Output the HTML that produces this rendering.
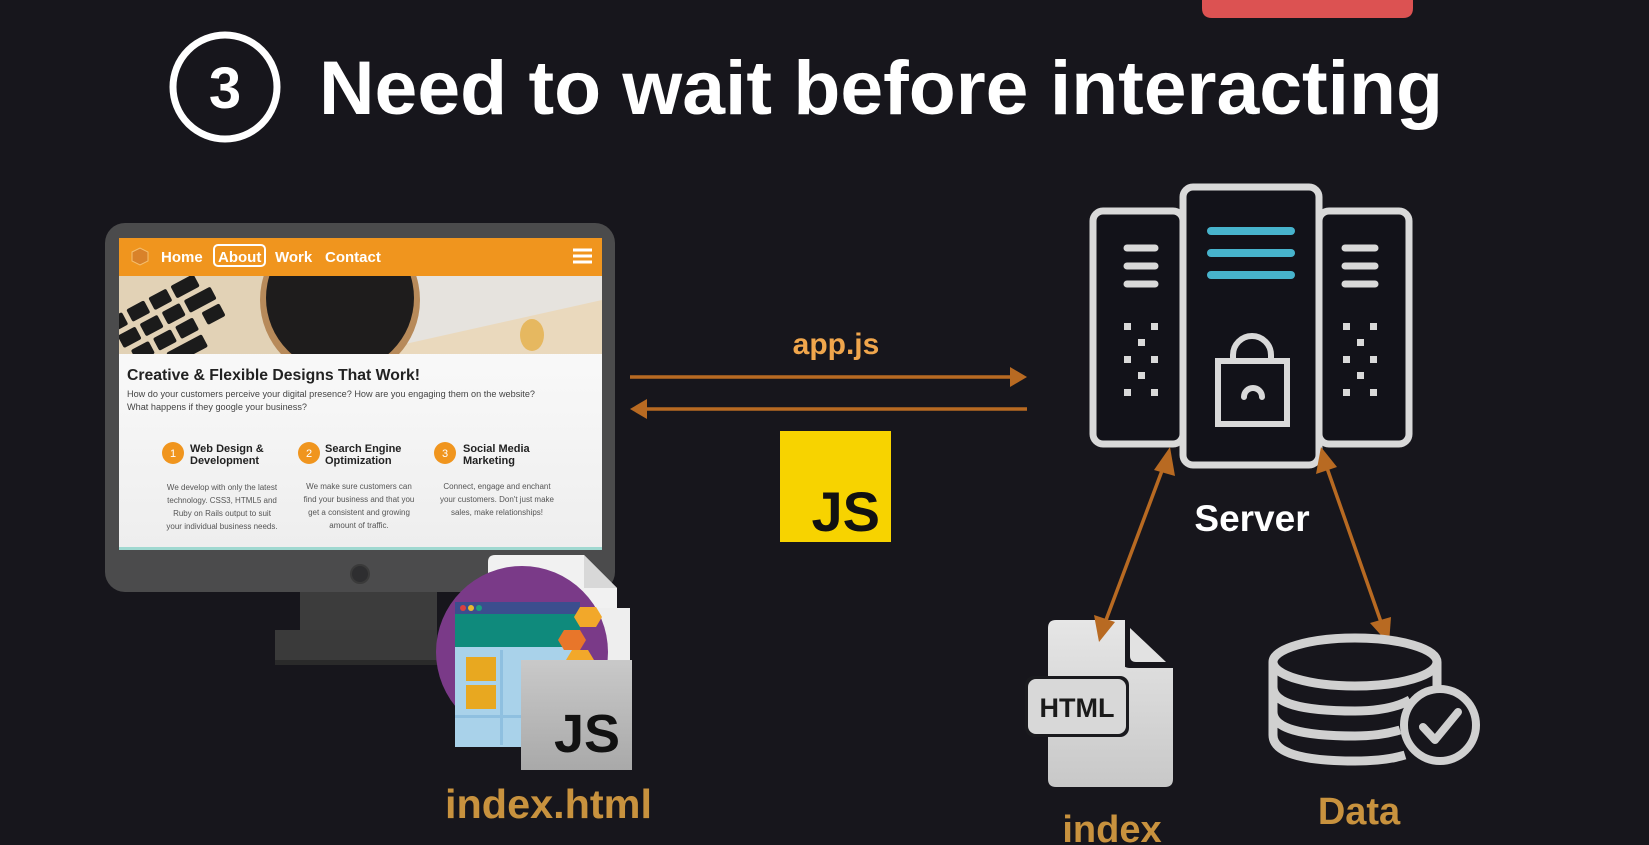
<!DOCTYPE html>
<html><head><meta charset="utf-8"><style>
html,body{margin:0;padding:0;background:#17161c;}
svg{display:block;}
text{font-family:"Liberation Sans",sans-serif;}
</style></head><body>
<svg width="1649" height="845" viewBox="0 0 1649 845" xmlns="http://www.w3.org/2000/svg">
<defs>
<linearGradient id="gy" x1="0" y1="0" x2="0" y2="1"><stop offset="0" stop-color="#c9c9c9"/><stop offset="1" stop-color="#a9a9a9"/></linearGradient>
<linearGradient id="wp" x1="0" y1="0" x2="0" y2="1"><stop offset="0" stop-color="#ffffff"/><stop offset="1" stop-color="#eeeeee"/></linearGradient>
<linearGradient id="pap" x1="0" y1="0" x2="0" y2="1"><stop offset="0" stop-color="#e6e6e6"/><stop offset="1" stop-color="#c8c8c8"/></linearGradient>
<clipPath id="img"><rect x="119" y="276" width="483" height="78"/></clipPath>
</defs>
<rect width="1649" height="845" fill="#17161c"/>
<path d="M1202 0 H1413 V8 Q1413 18 1403 18 H1212 Q1202 18 1202 8 Z" fill="#dc5252"/>
<circle cx="225" cy="87" r="52" fill="none" stroke="#fff" stroke-width="7"/>
<text x="225" y="108" font-size="58" font-weight="bold" fill="#fff" text-anchor="middle">3</text>
<text x="319" y="114" font-size="76" font-weight="bold" fill="#fff" textLength="1124" lengthAdjust="spacingAndGlyphs">Need to wait before interacting</text>

<rect x="300" y="590" width="137" height="42" fill="#3c3c3c"/>
<rect x="275" y="630" width="162" height="35" fill="#3a3a3a"/>
<rect x="275" y="660" width="162" height="5" fill="#2a2a2a"/>
<rect x="105" y="223" width="510" height="369" rx="20" fill="#4b4b4c"/>
<circle cx="360" cy="574" r="9" fill="#2e2e30" stroke="#3a3a3a" stroke-width="2"/>
<rect x="119" y="238" width="483" height="311" fill="url(#wp)"/>
<rect x="119" y="547" width="483" height="3" fill="#9fd8d0"/>
<rect x="119" y="238" width="483" height="38" fill="#f0951e"/>
<path d="M132 252 l8 -4 l8 4 v9 l-8 4 l-8 -4z" fill="#d9822a" stroke="#f5c070" stroke-width="1"/>
<g font-weight="bold" fill="#fff" font-size="15">
<text x="161" y="262">Home</text>
<rect x="214" y="245" width="51" height="21" rx="4" fill="none" stroke="#fff" stroke-width="2"/>
<text x="218" y="262">About</text>
<text x="275" y="262">Work</text>
<text x="325" y="262">Contact</text>
</g>
<g stroke="#fff" stroke-width="3"><line x1="573" y1="250" x2="592" y2="250"/><line x1="573" y1="256" x2="592" y2="256"/><line x1="573" y1="262" x2="592" y2="262"/></g>
<g clip-path="url(#img)">
<rect x="119" y="276" width="483" height="78" fill="#e6e3de"/>
<path d="M119 276 H270 L300 354 H119Z" fill="#e2d2b6"/>
<path d="M360 354 L602 300 V354Z" fill="#ead9bd"/>
<g fill="#1b1b1b" transform="rotate(-28 180 315)">
<rect x="110" y="285" width="20" height="14" rx="2"/><rect x="135" y="285" width="20" height="14" rx="2"/><rect x="160" y="285" width="20" height="14" rx="2"/><rect x="185" y="285" width="26" height="14" rx="2"/>
<rect x="115" y="304" width="20" height="14" rx="2"/><rect x="140" y="304" width="20" height="14" rx="2"/><rect x="165" y="304" width="20" height="14" rx="2"/><rect x="190" y="304" width="30" height="14" rx="2"/>
<rect x="120" y="323" width="20" height="14" rx="2"/><rect x="145" y="323" width="20" height="14" rx="2"/><rect x="170" y="323" width="20" height="14" rx="2"/><rect x="200" y="323" width="20" height="14" rx="2"/>
<rect x="125" y="342" width="20" height="14" rx="2"/><rect x="150" y="342" width="40" height="14" rx="2"/>
</g>
<circle cx="340" cy="300" r="80" fill="#b78a5a"/>
<circle cx="340" cy="298" r="74" fill="#1e1c1c"/>
<ellipse cx="532" cy="335" rx="12" ry="16" fill="#e6b860"/>
</g>
<text x="127" y="380" font-size="15.5" font-weight="bold" fill="#222" textLength="293" lengthAdjust="spacingAndGlyphs">Creative &amp; Flexible Designs That Work!</text>
<g font-size="9" fill="#444">
<text x="127" y="397" textLength="408" lengthAdjust="spacingAndGlyphs">How do your customers perceive your digital presence? How are you engaging them on the website?</text>
<text x="127" y="410" textLength="180" lengthAdjust="spacingAndGlyphs">What happens if they google your business?</text>
</g>
<g fill="#f0951e"><circle cx="173" cy="453" r="11"/><circle cx="309" cy="453" r="11"/><circle cx="445" cy="453" r="11"/></g>
<g fill="#fff" font-size="11" text-anchor="middle"><text x="173" y="457">1</text><text x="309" y="457">2</text><text x="445" y="457">3</text></g>
<g font-size="11" font-weight="bold" fill="#222">
<text x="190" y="452">Web Design &amp;</text><text x="190" y="464">Development</text>
<text x="325" y="452">Search Engine</text><text x="325" y="464">Optimization</text>
<text x="463" y="452">Social Media</text><text x="463" y="464">Marketing</text>
</g>
<g font-size="8" fill="#555" text-anchor="middle">
<text x="222" y="490">We develop with only the latest</text><text x="222" y="503">technology. CSS3, HTML5 and</text><text x="222" y="516">Ruby on Rails output to suit</text><text x="222" y="529">your individual business needs.</text>
<text x="359" y="489">We make sure customers can</text><text x="359" y="502">find your business and that you</text><text x="359" y="515">get a consistent and growing</text><text x="359" y="528">amount of traffic.</text>
<text x="497" y="489">Connect, engage and enchant</text><text x="497" y="502">your customers. Don't just make</text><text x="497" y="515">sales, make relationships!</text>
</g>

<path d="M488 562 Q488 555 495 555 H584 L617 588 V640 H488Z" fill="#f1f1f1"/>
<path d="M584 555 V588 H617Z" fill="#d8d8d8"/>
<rect x="597" y="608" width="33" height="60" fill="#eeeeee"/>
<circle cx="522" cy="652" r="86" fill="#7a3a88"/>
<rect x="455" y="602" width="125" height="145" fill="#a9d2ea"/>
<rect x="455" y="602" width="125" height="12" fill="#3b4e8e"/>
<circle cx="463" cy="608" r="3" fill="#d94040"/><circle cx="471" cy="608" r="3" fill="#e8b830"/><circle cx="479" cy="608" r="3" fill="#1aa080"/>
<rect x="455" y="614" width="125" height="33" fill="#0f8a7c"/>
<rect x="466" y="657" width="30" height="24" fill="#e8a820"/><rect x="466" y="685" width="30" height="24" fill="#e8a820"/>
<rect x="500" y="650" width="3" height="95" fill="#8fc0e0"/><rect x="455" y="715" width="125" height="3" fill="#8fc0e0"/>
<polygon points="580,607 596,607 602,617 596,627 580,627 574,617" fill="#f2a82a"/>
<polygon points="564,630 580,630 586,640 580,650 564,650 558,640" fill="#e8762a"/>
<polygon points="572,650 588,650 594,660 588,670 572,670 566,660" fill="#f2a82a"/>
<rect x="521" y="660" width="111" height="110" fill="url(#gy)"/>
<text x="620" y="752" font-size="54" font-weight="bold" fill="#111" text-anchor="end">JS</text>
<text x="445" y="818" font-size="41" font-weight="bold" fill="#c8923e" textLength="207" lengthAdjust="spacingAndGlyphs">index.html</text>

<g stroke="#b86a22" stroke-width="3.5"><line x1="630" y1="377" x2="1012" y2="377"/><line x1="645" y1="409" x2="1027" y2="409"/></g>
<polygon points="1027,377 1010,367 1010,387" fill="#b86a22"/>
<polygon points="630,409 647,399 647,419" fill="#b86a22"/>
<text x="836" y="354" font-size="30" font-weight="bold" fill="#f0a64c" text-anchor="middle">app.js</text>
<rect x="780" y="431" width="111" height="111" fill="#f7d300"/>
<text x="880" y="531" font-size="56" font-weight="bold" fill="#111" text-anchor="end">JS</text>

<g fill="#121219" stroke="#d9d9d9" stroke-width="7">
<rect x="1093" y="211" width="90" height="233" rx="10"/>
<rect x="1319" y="211" width="90" height="233" rx="10"/>
<rect x="1183" y="187" width="136" height="278" rx="10"/>
</g>
<g stroke="#47b3cc" stroke-width="8" stroke-linecap="round"><line x1="1211" y1="231" x2="1291" y2="231"/><line x1="1211" y1="253" x2="1291" y2="253"/><line x1="1211" y1="275" x2="1291" y2="275"/></g>
<g stroke="#d9d9d9" stroke-width="7" stroke-linecap="round"><line x1="1127" y1="248" x2="1155" y2="248"/><line x1="1127" y1="266" x2="1155" y2="266"/><line x1="1127" y1="284" x2="1155" y2="284"/><line x1="1345" y1="248" x2="1375" y2="248"/><line x1="1345" y1="266" x2="1375" y2="266"/><line x1="1345" y1="284" x2="1375" y2="284"/></g>
<g fill="#d9d9d9">
<rect x="1124" y="323" width="7" height="7"/><rect x="1151" y="323" width="7" height="7"/><rect x="1138" y="339" width="7" height="7"/><rect x="1124" y="356" width="7" height="7"/><rect x="1151" y="356" width="7" height="7"/><rect x="1138" y="372" width="7" height="7"/><rect x="1124" y="389" width="7" height="7"/><rect x="1151" y="389" width="7" height="7"/>
<rect x="1343" y="323" width="7" height="7"/><rect x="1370" y="323" width="7" height="7"/><rect x="1357" y="339" width="7" height="7"/><rect x="1343" y="356" width="7" height="7"/><rect x="1370" y="356" width="7" height="7"/><rect x="1357" y="372" width="7" height="7"/><rect x="1343" y="389" width="7" height="7"/><rect x="1370" y="389" width="7" height="7"/>
</g>
<g fill="none" stroke="#d9d9d9" stroke-width="6" stroke-linecap="round">
<rect x="1218" y="361" width="69" height="63"/>
<path d="M1233 361 V355 A19 19 0 0 1 1271 355 V361"/>
<path d="M1244 397 A9 9 0 0 1 1262 397"/>
</g>
<text x="1252" y="531" font-size="37" font-weight="bold" fill="#fff" text-anchor="middle">Server</text>

<path d="M1048 628 Q1048 620 1056 620 H1125 V787 H1056 Q1048 787 1048 779Z" fill="url(#pap)"/>
<path d="M1122 620 V660 Q1122 668 1130 668 H1173 V779 Q1173 787 1165 787 H1122Z" fill="url(#pap)"/>
<path d="M1130 628 L1166 662 H1136 Q1130 662 1130 656Z" fill="#e2e2e2"/>
<rect x="1025" y="676" width="104" height="61" rx="9" fill="#1a1a1e"/>
<rect x="1028" y="679" width="98" height="55" rx="8" fill="#d8d8d8"/>
<text x="1077" y="717" font-size="27" font-weight="bold" fill="#1a1a1a" text-anchor="middle">HTML</text>

<g stroke="#b86a22" stroke-width="3.5"><line x1="1163" y1="468" x2="1106" y2="620"/><line x1="1327" y1="468" x2="1381" y2="622"/></g>
<polygon points="1170,447 1154,470 1175,476" fill="#b86a22"/>
<polygon points="1099,642 1094,615 1115,622" fill="#b86a22"/>
<polygon points="1321,447 1316,474 1337,467" fill="#b86a22"/>
<polygon points="1389,644 1370,623 1391,617" fill="#b86a22"/>

<g fill="none" stroke="#d0d0d0" stroke-width="9">
<ellipse cx="1355" cy="662" rx="82" ry="24"/>
<path d="M1273 662 V735 Q1273 761 1355 761 Q1385 761 1405 755"/>
<path d="M1273 687 Q1273 711 1355 711 Q1390 711 1410 700"/>
<path d="M1273 712 Q1273 736 1355 736 Q1380 736 1400 730"/>
<path d="M1437 662 V690"/>
</g>
<circle cx="1440" cy="725" r="36" fill="#17161c" stroke="#d0d0d0" stroke-width="8"/>
<path d="M1423 727 L1435 740 L1458 712" fill="none" stroke="#d0d0d0" stroke-width="8" stroke-linecap="round" stroke-linejoin="round"/>

<text x="1112" y="842" font-size="38" font-weight="bold" fill="#c8923e" text-anchor="middle">index</text>
<text x="1359" y="824" font-size="38" font-weight="bold" fill="#c8923e" text-anchor="middle">Data</text>
</svg>
</body></html>
